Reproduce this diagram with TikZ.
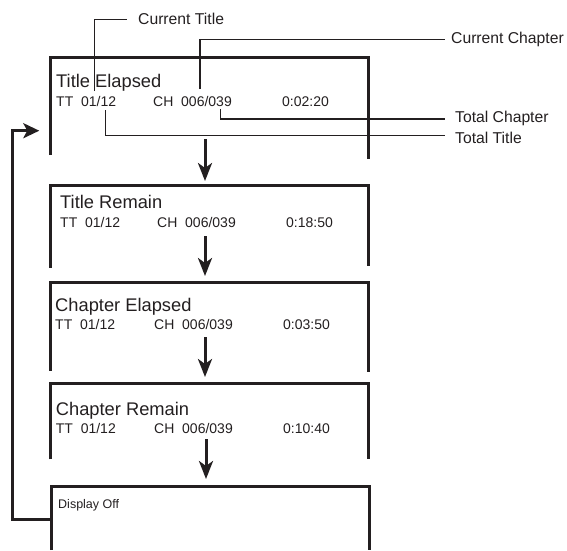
\documentclass[tikz,border=0pt]{standalone}
\usepackage{fontspec}
\setmainfont{Liberation Sans}
\usetikzlibrary{arrows.meta}
\definecolor{ink}{HTML}{231F20}
\begin{document}
\begin{tikzpicture}[x=1pt,y=-1pt,
  frame/.style={draw=ink, line width=3pt},
  flow/.style={draw=ink, line width=3pt, -{Stealth[length=18pt,width=14pt,inset=5pt]}},
  loopflow/.style={draw=ink, line width=3pt, -{Stealth[length=16pt,width=15pt,inset=4pt]}},
  lead/.style={draw=ink, line width=1.1pt},
  ttl/.style={anchor=base west, inner sep=0pt, font=\fontsize{18.3}{20}\selectfont, text=ink},
  info/.style={anchor=base west, inner sep=0pt, font=\fontsize{14}{16}\selectfont, text=ink},
  note/.style={anchor=base west, inner sep=0pt, font=\fontsize{15.7}{18}\selectfont, text=ink}]
\useasboundingbox (0,0) rectangle (567,550);

% leader lines (under the frames)
\coordinate (ctA) at (94.5,91);   \coordinate (ctB) at (94.5,19.3);  \coordinate (ctC) at (127,19.3);
\coordinate (ccA) at (200,89);    \coordinate (ccB) at (200,39.5);   \coordinate (ccC) at (445,39.5);
\coordinate (tcA) at (220.7,109.3); \coordinate (tcB) at (220.7,119); \coordinate (tcC) at (445,119);
\coordinate (ttA) at (105.8,110); \coordinate (ttB) at (105.8,135.7); \coordinate (ttC) at (445,135.7);
\draw[lead] (ctA) -- (ctB) -- (ctC);
\draw[lead] (ccA) -- (ccB) -- (ccC);
\draw[lead] (tcA) -- (tcB) -- (tcC);
\draw[lead] (ttA) -- (ttB) -- (ttC);
\node[note] (curT) at (138,24.6) {Current Title};
\node[note] (curC) at (451,43.6) {Current Chapter};
\node[note] (totC) at (455,122.6) {Total Chapter};
\node[note] (totT) at (455,143.6) {Total Title};

% frames (open at the bottom)
\draw[frame] (50,155) -- (50,57.5) -- (368,57.5) -- (368,159);
\draw[frame] (50,267.7) -- (50,185) -- (368,185) -- (368,266);
\draw[frame] (50,370.7) -- (50,282) -- (368,282) -- (368,371.7);
\draw[frame] (50,459.3) -- (50,383.3) -- (368,383.3) -- (368,458.7);
\draw[frame] (51,550) -- (51,486) -- (369,486) -- (369,550);

% texts
\node[ttl] (t1) at (56,87) {Title Elapsed};
\node[info] (i1a) at (56,106) {TT\ \ 01/12};
\node[info] (i1b) at (153,106) {CH\ \ 006/039};
\node[info] (i1c) at (282,106) {0:02:20};

\node[ttl] (t2) at (60,208.5) {Title Remain};
\node[info] (i2a) at (60,227) {TT\ \ 01/12};
\node[info] (i2b) at (157,227) {CH\ \ 006/039};
\node[info] (i2c) at (286,227) {0:18:50};

\node[ttl] (t3) at (55,311.5) {Chapter Elapsed};
\node[info] (i3a) at (55,329) {TT\ \ 01/12};
\node[info] (i3b) at (154,329) {CH\ \ 006/039};
\node[info] (i3c) at (283,329) {0:03:50};

\node[ttl] (t4) at (55.7,415.5) {Chapter Remain};
\node[info] (i4a) at (55.7,433) {TT\ \ 01/12};
\node[info] (i4b) at (154,433) {CH\ \ 006/039};
\node[info] (i4c) at (283,433) {0:10:40};

\node[info, font=\fontsize{12.5}{14}\selectfont] (t5) at (58,508.5) {Display Off};

% flow arrows
\coordinate (a1s) at (205,139); \coordinate (a1e) at (205,181);
\coordinate (a2s) at (205,236); \coordinate (a2e) at (205,276);
\coordinate (a3s) at (205,337); \coordinate (a3e) at (205,377);
\coordinate (a4s) at (206,439); \coordinate (a4e) at (206,479);
\draw[flow] (a1s) -- (a1e);
\draw[flow] (a2s) -- (a2e);
\draw[flow] (a3s) -- (a3e);
\draw[flow] (a4s) -- (a4e);

% loop back
\coordinate (l0) at (51,519);
\coordinate (l1) at (12.7,519);
\coordinate (l2) at (12.7,130.7);
\coordinate (l3) at (39.3,130.7);
\draw[loopflow] (l0) -- (l1) -- (l2) -- (l3);
\end{tikzpicture}
\end{document}
